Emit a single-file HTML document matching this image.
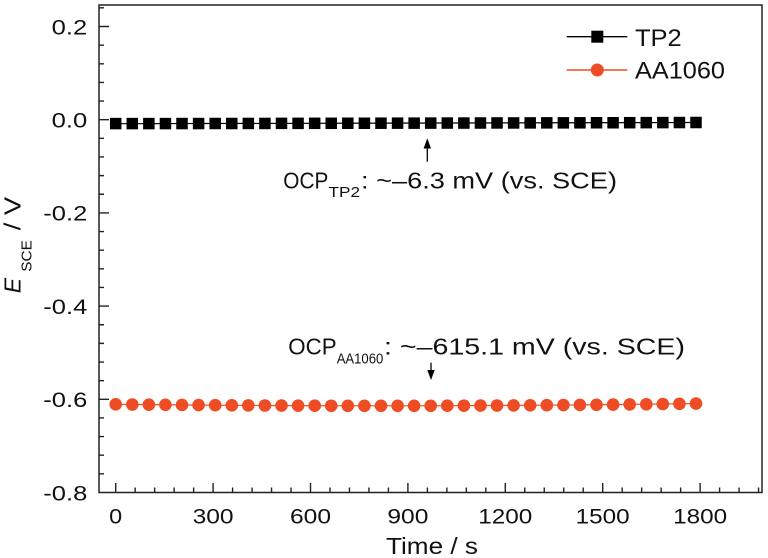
<!DOCTYPE html>
<html>
<head>
<meta charset="utf-8">
<style>
html,body{margin:0;padding:0;background:#fff;}
svg{display:block;font-family:"Liberation Sans",Arial,sans-serif;}
</style>
</head>
<body>
<svg width="768" height="558" viewBox="0 0 768 558" xmlns="http://www.w3.org/2000/svg">
<rect x="0" y="0" width="768" height="558" fill="#fff"/>

<!-- frame -->
<rect x="99" y="5" width="663" height="487.5" fill="none" stroke="#222" stroke-width="1.5"/>

<!-- y ticks -->
<path stroke="#222" stroke-width="1.4" fill="none" d="
M99 7.86h5 M99 26.5h10 M99 45.14h5 M99 63.78h5 M99 82.42h5 M99 101.06h5
M99 119.7h10 M99 138.34h5 M99 156.98h5 M99 175.62h5 M99 194.26h5
M99 212.9h10 M99 231.54h5 M99 250.18h5 M99 268.82h5 M99 287.46h5
M99 306.1h10 M99 324.74h5 M99 343.38h5 M99 362.02h5 M99 380.66h5
M99 399.3h10 M99 417.94h5 M99 436.58h5 M99 455.22h5 M99 473.86h5"/>

<!-- x ticks -->
<path stroke="#222" stroke-width="1.4" fill="none" d="
M115.7 492.5v-9.5 M135.18 492.5v-5 M154.66 492.5v-5 M174.14 492.5v-5 M193.62 492.5v-5
M213.1 492.5v-9.5 M232.58 492.5v-5 M252.06 492.5v-5 M271.54 492.5v-5 M291.02 492.5v-5
M310.5 492.5v-9.5 M329.98 492.5v-5 M349.46 492.5v-5 M368.94 492.5v-5 M388.42 492.5v-5
M407.9 492.5v-9.5 M427.38 492.5v-5 M446.86 492.5v-5 M466.34 492.5v-5 M485.82 492.5v-5
M505.3 492.5v-9.5 M524.78 492.5v-5 M544.26 492.5v-5 M563.74 492.5v-5 M583.22 492.5v-5
M602.7 492.5v-9.5 M622.18 492.5v-5 M641.66 492.5v-5 M661.14 492.5v-5 M680.62 492.5v-5
M700.1 492.5v-9.5 M719.58 492.5v-5 M739.06 492.5v-5 M758.54 492.5v-5"/>

<!-- y tick labels -->
<g font-size="21.5" fill="#111" text-anchor="end" lengthAdjust="spacingAndGlyphs">
<text x="87.3" y="34.3" textLength="35.6" lengthAdjust="spacingAndGlyphs">0.2</text>
<text x="87.3" y="127.5" textLength="35.6" lengthAdjust="spacingAndGlyphs">0.0</text>
<text x="87.3" y="220.7" textLength="44" lengthAdjust="spacingAndGlyphs">-0.2</text>
<text x="87.3" y="313.9" textLength="44" lengthAdjust="spacingAndGlyphs">-0.4</text>
<text x="87.3" y="407.1" textLength="44" lengthAdjust="spacingAndGlyphs">-0.6</text>
<text x="87.3" y="500.3" textLength="44" lengthAdjust="spacingAndGlyphs">-0.8</text>
</g>

<!-- x tick labels -->
<g font-size="21.5" fill="#111" text-anchor="middle">
<text x="115.7" y="523.3" textLength="13" lengthAdjust="spacingAndGlyphs">0</text>
<text x="213.1" y="523.3" textLength="41" lengthAdjust="spacingAndGlyphs">300</text>
<text x="310.5" y="523.3" textLength="41" lengthAdjust="spacingAndGlyphs">600</text>
<text x="407.9" y="523.3" textLength="41" lengthAdjust="spacingAndGlyphs">900</text>
<text x="505.3" y="523.3" textLength="54" lengthAdjust="spacingAndGlyphs">1200</text>
<text x="602.7" y="523.3" textLength="54" lengthAdjust="spacingAndGlyphs">1500</text>
<text x="700.1" y="523.3" textLength="54" lengthAdjust="spacingAndGlyphs">1800</text>
</g>

<!-- axis titles -->
<text x="386" y="554" font-size="22.8" fill="#111" textLength="92" lengthAdjust="spacingAndGlyphs">Time / s</text>
<g transform="translate(20.5,293.3) rotate(-90)" fill="#111">
<text x="0" y="0" font-size="23" font-style="italic">E</text>
<text x="21.6" y="11.2" font-size="15" textLength="31.5" lengthAdjust="spacingAndGlyphs">SCE</text>
<text x="63" y="0" font-size="23" textLength="33.5" lengthAdjust="spacingAndGlyphs">/ V</text>
</g>

<!-- TP2 series -->
<polyline fill="none" stroke="#000" stroke-width="1.2" points="115.7,123.7 696,122.5"/>
<g fill="#000">
<rect x="109.95" y="117.85" width="11.5" height="11.5"/>
<rect x="126.53" y="117.85" width="11.5" height="11.5"/>
<rect x="143.11" y="117.85" width="11.5" height="11.5"/>
<rect x="159.69" y="117.85" width="11.5" height="11.5"/>
<rect x="176.27" y="117.8" width="11.5" height="11.5"/>
<rect x="192.85" y="117.8" width="11.5" height="11.5"/>
<rect x="209.43" y="117.75" width="11.5" height="11.5"/>
<rect x="226.01" y="117.75" width="11.5" height="11.5"/>
<rect x="242.59" y="117.7" width="11.5" height="11.5"/>
<rect x="259.17" y="117.7" width="11.5" height="11.5"/>
<rect x="275.75" y="117.6" width="11.5" height="11.5"/>
<rect x="292.33" y="117.6" width="11.5" height="11.5"/>
<rect x="308.91" y="117.55" width="11.5" height="11.5"/>
<rect x="325.49" y="117.55" width="11.5" height="11.5"/>
<rect x="342.07" y="117.5" width="11.5" height="11.5"/>
<rect x="358.65" y="117.5" width="11.5" height="11.5"/>
<rect x="375.23" y="117.45" width="11.5" height="11.5"/>
<rect x="391.81" y="117.4" width="11.5" height="11.5"/>
<rect x="408.39" y="117.4" width="11.5" height="11.5"/>
<rect x="424.97" y="117.35" width="11.5" height="11.5"/>
<rect x="441.55" y="117.3" width="11.5" height="11.5"/>
<rect x="458.13" y="117.3" width="11.5" height="11.5"/>
<rect x="474.71" y="117.25" width="11.5" height="11.5"/>
<rect x="491.29" y="117.2" width="11.5" height="11.5"/>
<rect x="507.87" y="117.2" width="11.5" height="11.5"/>
<rect x="524.45" y="117.15" width="11.5" height="11.5"/>
<rect x="541.03" y="117.1" width="11.5" height="11.5"/>
<rect x="557.61" y="117.1" width="11.5" height="11.5"/>
<rect x="574.19" y="117.05" width="11.5" height="11.5"/>
<rect x="590.77" y="117.0" width="11.5" height="11.5"/>
<rect x="607.35" y="117.0" width="11.5" height="11.5"/>
<rect x="623.93" y="116.95" width="11.5" height="11.5"/>
<rect x="640.51" y="116.9" width="11.5" height="11.5"/>
<rect x="657.09" y="116.85" width="11.5" height="11.5"/>
<rect x="673.67" y="116.8" width="11.5" height="11.5"/>
<rect x="690.25" y="116.75" width="11.5" height="11.5"/>
</g>

<!-- AA1060 series -->
<polyline fill="none" stroke="#EE4C24" stroke-width="1.2" points="115.7,404.3 198.6,405.1 281.5,405.6 381,405.8 447.3,405.7 546.8,405.2 613.1,404.6 696,403.6"/>
<g fill="#EE4C24">
<circle cx="115.7" cy="404.3" r="6.3"/>
<circle cx="132.3" cy="404.5" r="6.3"/>
<circle cx="148.9" cy="404.65" r="6.3"/>
<circle cx="165.4" cy="404.8" r="6.3"/>
<circle cx="182.0" cy="404.96" r="6.3"/>
<circle cx="198.6" cy="405.1" r="6.3"/>
<circle cx="215.2" cy="405.21" r="6.3"/>
<circle cx="231.8" cy="405.32" r="6.3"/>
<circle cx="248.3" cy="405.43" r="6.3"/>
<circle cx="264.9" cy="405.51" r="6.3"/>
<circle cx="281.5" cy="405.59" r="6.3"/>
<circle cx="298.1" cy="405.65" r="6.3"/>
<circle cx="314.7" cy="405.71" r="6.3"/>
<circle cx="331.2" cy="405.75" r="6.3"/>
<circle cx="347.8" cy="405.78" r="6.3"/>
<circle cx="364.4" cy="405.8" r="6.3"/>
<circle cx="381.0" cy="405.8" r="6.3"/>
<circle cx="397.6" cy="405.79" r="6.3"/>
<circle cx="414.1" cy="405.78" r="6.3"/>
<circle cx="430.7" cy="405.75" r="6.3"/>
<circle cx="447.3" cy="405.7" r="6.3"/>
<circle cx="463.9" cy="405.64" r="6.3"/>
<circle cx="480.5" cy="405.58" r="6.3"/>
<circle cx="497.0" cy="405.5" r="6.3"/>
<circle cx="513.6" cy="405.41" r="6.3"/>
<circle cx="530.2" cy="405.3" r="6.3"/>
<circle cx="546.8" cy="405.19" r="6.3"/>
<circle cx="563.4" cy="405.06" r="6.3"/>
<circle cx="579.9" cy="404.92" r="6.3"/>
<circle cx="596.5" cy="404.77" r="6.3"/>
<circle cx="613.1" cy="404.61" r="6.3"/>
<circle cx="629.7" cy="404.43" r="6.3"/>
<circle cx="646.3" cy="404.24" r="6.3"/>
<circle cx="662.8" cy="404.03" r="6.3"/>
<circle cx="679.4" cy="403.82" r="6.3"/>
<circle cx="696.0" cy="403.6" r="6.3"/>
</g>

<!-- legend -->
<line x1="566.7" y1="36.7" x2="627.3" y2="36.7" stroke="#000" stroke-width="1.4"/>
<rect x="591.3" y="30.7" width="12" height="12" fill="#000"/>
<text x="635" y="46" font-size="23.7" fill="#111" textLength="46.7" lengthAdjust="spacingAndGlyphs">TP2</text>
<line x1="566.7" y1="70" x2="627.3" y2="70" stroke="#EE4C24" stroke-width="1.4"/>
<circle cx="597.3" cy="70" r="6.5" fill="#EE4C24"/>
<text x="635" y="78.3" font-size="23.7" fill="#111" textLength="90" lengthAdjust="spacingAndGlyphs">AA1060</text>

<!-- annotation 1 -->
<line x1="427.3" y1="147" x2="427.3" y2="161.7" stroke="#000" stroke-width="1.3"/>
<polygon points="427.3,138.3 423.6,148.5 431,148.5" fill="#000"/>
<g fill="#111">
<text x="283.3" y="188.3" font-size="23" textLength="45" lengthAdjust="spacingAndGlyphs">OCP</text>
<text x="328.5" y="197" font-size="14.5" textLength="31.5" lengthAdjust="spacingAndGlyphs">TP2</text>
<text x="361" y="188.3" font-size="23" textLength="256" lengthAdjust="spacingAndGlyphs">: ~–6.3 mV (vs. SCE)</text>
</g>

<!-- annotation 2 -->
<line x1="431" y1="362.7" x2="431" y2="371" stroke="#000" stroke-width="1.3"/>
<polygon points="431,380 427.3,370 434.7,370" fill="#000"/>
<g fill="#111">
<text x="288.3" y="354.3" font-size="23" textLength="48.3" lengthAdjust="spacingAndGlyphs">OCP</text>
<text x="336.7" y="363.3" font-size="14.5" textLength="46.6" lengthAdjust="spacingAndGlyphs">AA1060</text>
<text x="384" y="354.3" font-size="23" textLength="301" lengthAdjust="spacingAndGlyphs">: ~–615.1 mV (vs. SCE)</text>
</g>
</svg>
</body>
</html>
